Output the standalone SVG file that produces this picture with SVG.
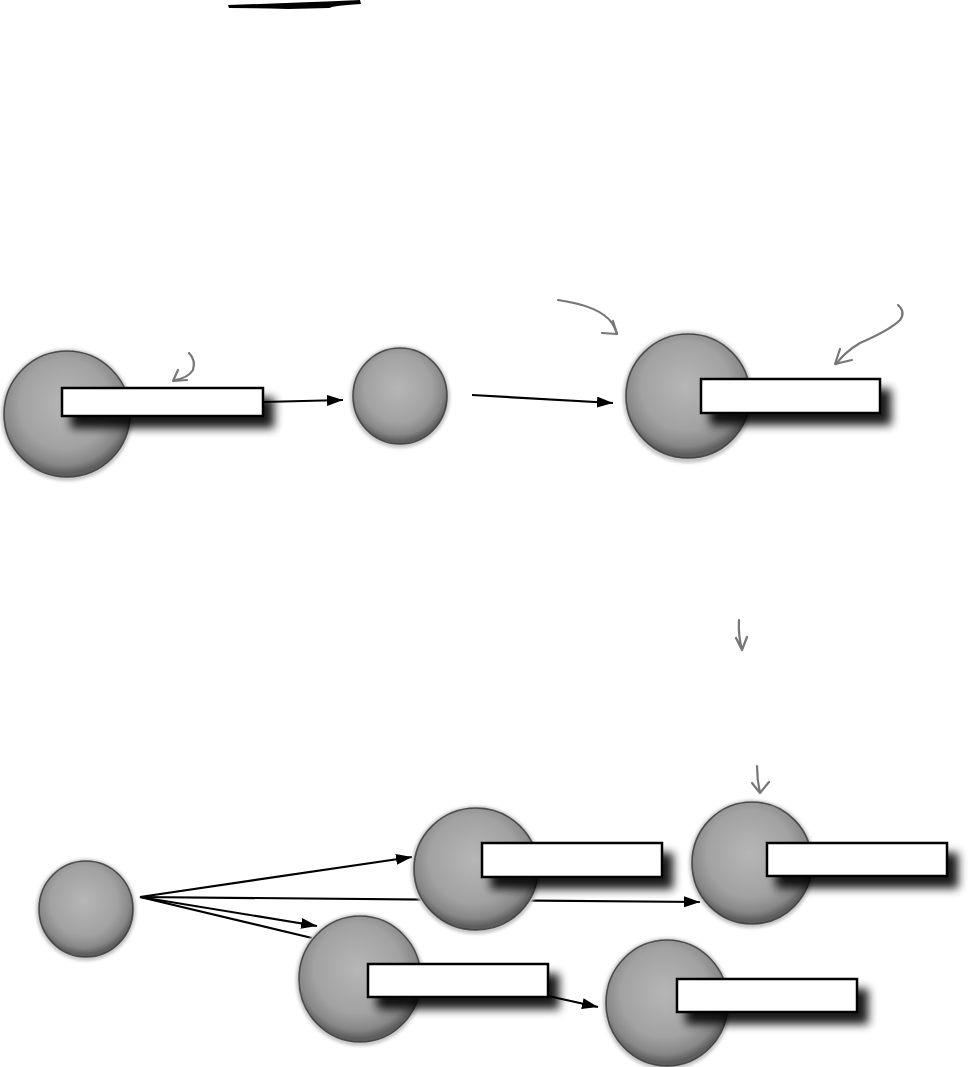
<svg xmlns="http://www.w3.org/2000/svg" width="972" height="1067" viewBox="0 0 972 1067">
<style>
.conn{stroke:#000;stroke-width:2.2;fill:none}
.hand{stroke:#777;stroke-width:2.2;fill:none;stroke-linecap:round;stroke-linejoin:round}
.halo{fill:#c6c6c6;filter:url(#soft)}
.cell{fill:url(#cellg);stroke:#3a3a3a;stroke-width:1.6;stroke-opacity:.85}
.box{fill:#fff;stroke:#000;stroke-width:2.5;filter:url(#shadow)}
</style>
<defs>
<radialGradient id="cellg" cx="48%" cy="42%" r="55%">
<stop offset="0" stop-color="#b6b6b6"/>
<stop offset="0.65" stop-color="#a2a2a2"/>
<stop offset="0.88" stop-color="#878787"/>
<stop offset="1" stop-color="#5e5e5e"/>
</radialGradient>
<filter id="soft" x="-20%" y="-20%" width="140%" height="140%"><feGaussianBlur stdDeviation="1.5"/></filter>
<filter id="shadow" x="-10%" y="-50%" width="135%" height="250%">
<feGaussianBlur in="SourceAlpha" stdDeviation="5"/>
<feOffset dx="10" dy="11" result="b"/>
<feComponentTransfer><feFuncA type="linear" slope="0.9"/></feComponentTransfer>
<feMerge><feMergeNode/><feMergeNode in="SourceGraphic"/></feMerge>
</filter>
<marker id="ah" viewBox="0 0 16 11" refX="16" refY="5.5" markerWidth="16" markerHeight="11" markerUnits="userSpaceOnUse" orient="auto">
<path d="M0,0 L16,5.5 L0,11 Z" fill="#000"/>
</marker>
</defs>
<rect width="972" height="1067" fill="#fff"/>

<g id="brush">
<path d="M228,5 Q290,3 360,0 L361,4 Q330,6 330,8 L288,9 Q260,8 229,8 Z" fill="#000"/>
</g>

<g id="connectors">
<line class="conn" x1="263" y1="402" x2="343" y2="400" marker-end="url(#ah)"/>
<line class="conn" x1="472" y1="395" x2="613" y2="403" marker-end="url(#ah)"/>
<line class="conn" x1="140" y1="897" x2="412" y2="857" marker-end="url(#ah)"/>
<line class="conn" x1="140" y1="897" x2="700" y2="902" marker-end="url(#ah)"/>
<line class="conn" x1="140" y1="897" x2="317" y2="926" marker-end="url(#ah)"/>
<line class="conn" x1="140" y1="897" x2="312" y2="938"/>
<line class="conn" x1="548" y1="996" x2="598" y2="1007" marker-end="url(#ah)"/>
</g>

<g id="hand-arrows">
<path class="hand" d="M189,353 Q196,360 193,370 Q188,378 175,380"/>
<path class="hand" d="M173,381 L178,370 M173,381 L187,380"/>
<path class="hand" d="M558,300 Q600,306 612,323 Q616,330 617,334"/>
<path class="hand" d="M617,334 L602,333 M617,334 L613,321"/>
<path class="hand" d="M898,305 Q906,312 900,320 Q890,330 860,343 Q845,352 836,364"/>
<path class="hand" d="M835,364 L840,349 M835,364 L852,360"/>
<path class="hand" d="M739,620 Q738,635 742,650 M742,650 L736,638 M742,650 L747,637"/>
<path class="hand" d="M757,766 Q757,780 760,793 M760,793 L752,783 M760,793 L769,782"/>
</g>

<g id="node-a">
<ellipse class="halo" cx="67" cy="415" rx="66" ry="66"/>
<ellipse class="cell" cx="67" cy="414" rx="63" ry="63"/>
<rect class="box" x="62" y="388" width="201" height="28"/>
</g>
<g id="node-b">
<ellipse class="halo" cx="400" cy="397" rx="50" ry="51"/>
<ellipse class="cell" cx="400" cy="396" rx="47" ry="48"/>
</g>
<g id="node-c">
<ellipse class="halo" cx="688" cy="397" rx="65" ry="66"/>
<ellipse class="cell" cx="688" cy="396" rx="62" ry="62"/>
<rect class="box" x="701" y="379" width="179" height="34"/>
</g>
<g id="node-d">
<ellipse class="halo" cx="86" cy="910" rx="50" ry="51"/>
<ellipse class="cell" cx="86" cy="909" rx="47" ry="48"/>
</g>
<g id="node-e">
<ellipse class="halo" cx="476" cy="870" rx="65" ry="64"/>
<ellipse class="cell" cx="476" cy="869" rx="62" ry="61"/>
<rect class="box" x="482" y="843" width="180" height="34"/>
</g>
<g id="node-f">
<ellipse class="halo" cx="360" cy="980" rx="64" ry="66"/>
<ellipse class="cell" cx="360" cy="979" rx="61" ry="63"/>
<rect class="box" x="368" y="964" width="180" height="33"/>
</g>
<g id="node-g">
<ellipse class="halo" cx="752" cy="864" rx="63" ry="64"/>
<ellipse class="cell" cx="752" cy="863" rx="60" ry="61"/>
<rect class="box" x="767" y="843" width="180" height="33"/>
</g>
<g id="node-h">
<ellipse class="halo" cx="667" cy="1004" rx="64" ry="66"/>
<ellipse class="cell" cx="667" cy="1003" rx="61" ry="63"/>
<rect class="box" x="677" y="979" width="180" height="33"/>
</g>
</svg>
